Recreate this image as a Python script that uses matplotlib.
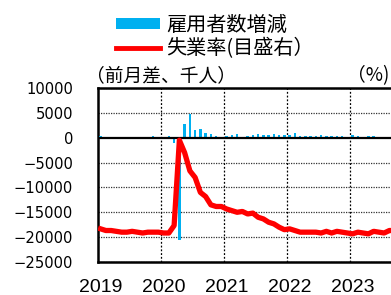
import matplotlib
matplotlib.use("Agg")
import matplotlib.pyplot as plt
from matplotlib.patches import Patch
from matplotlib.lines import Line2D
import numpy as np

# ---- data ----
years = [2019, 2020, 2021, 2022, 2023]
year_labels = ["2019", "2020", "2021", "2022", "2023"]

# monthly change in employees (thousand persons), Jan 2019 - Dec 2023
emp_change = [
    268, 1, 147, 216, 62, 178, 166, 219, 180, 136, 266, 184,          # 2019
    214, 251, -1120, -20500, 2750, 4700, 1600, 1750, 950, 700, 250, -250,  # 2020
    430, 570, 770, 230, 300, 630, 770, 570, 630, 770, 570, 570,      # 2021
    450, 850, 400, 350, 350, 300, 550, 300, 300, 280, 280, 230,      # 2022
    500, 310, 236, 253, 339, 209, 187, 187, 336, 150, 199, 216,      # 2023
]

# unemployment rate (%), Jan 2019 - Dec 2023
unemp = [
    4.0, 3.8, 3.8, 3.7, 3.6, 3.6, 3.7, 3.6, 3.5, 3.6, 3.6, 3.6,      # 2019
    3.5, 3.5, 4.4, 14.7, 13.2, 11.0, 10.2, 8.4, 7.9, 6.9, 6.7, 6.7,  # 2020
    6.4, 6.2, 6.0, 6.1, 5.8, 5.9, 5.4, 5.2, 4.8, 4.6, 4.2, 3.9,      # 2021
    4.0, 3.8, 3.6, 3.6, 3.6, 3.6, 3.5, 3.7, 3.5, 3.7, 3.6, 3.5,      # 2022
    3.4, 3.6, 3.5, 3.4, 3.7, 3.6, 3.5, 3.8, 3.8, 3.8, 3.7, 3.7,      # 2023
]

left_ticks = [10000, 5000, 0, -5000, -10000, -15000, -20000, -25000]

CJK = ["Noto Sans CJK JP", "DejaVu Sans"]
BLUE = "#00B0F0"
RED = "#FF0000"

W, H = 391, 295
fig = plt.figure(figsize=(W / 100, H / 100), dpi=100)
fig.patch.set_facecolor("white")

# axes extends beyond the right edge of the (cropped) picture
ax = fig.add_axes([98 / W, (H - 262) / H, 315 / W, 174 / H])
x = np.arange(len(emp_change)) + 0.5

ax.bar(x, emp_change, width=0.45, color=BLUE, zorder=3)
ax.set_xlim(0, 60)
ax.set_ylim(-25000, 10000)
ax.set_yticks(left_ticks)
ax.set_yticklabels([f"{v}".replace("-", "\u2212") for v in left_ticks],
                   family="DejaVu Sans", fontsize=10.6)
ax.tick_params(axis="y", length=0, pad=18)

# gridlines
for v in left_ticks:
    if v not in (0,):
        ax.axhline(v, color="#333333", lw=0.9, ls=(0, (1, 1)), zorder=1)
for i in range(1, 5):
    ax.axvline(i * 12, color="black", lw=0.9, ls=(0, (1.5, 1.5)), zorder=1)
ax.axhline(0, color="black", lw=1.6, zorder=4)

# year labels
ax.set_xticks([i * 12 + 0.5 for i in range(len(years))])
ax.set_xticklabels(year_labels, family="Liberation Sans", fontsize=14)
ax.tick_params(axis="x", length=0, pad=12)

for s in ["left", "bottom", "top"]:
    ax.spines[s].set_linewidth(1.8)
ax.spines["right"].set_visible(False)

ax2 = ax.twinx()
ax2.plot(x, unemp, color=RED, lw=3.8, solid_joinstyle="round", zorder=5)
ax2.set_ylim(0, 21)
ax2.set_yticks([])
for s in ax2.spines.values():
    s.set_visible(False)

# unit labels
fig.text(86 / W, 1 - 76 / H, "（前月差、千人）", family=CJK, fontsize=13.5,
         ha="left", va="center")
fig.text(389 / W, 1 - 76 / H, "（%)", family=CJK, fontsize=13.5,
         ha="right", va="center")

# legend
handles = [Patch(facecolor=BLUE, edgecolor="none"),
           Line2D([], [], color=RED, lw=3.5)]
labels = ["雇用者数増減", "失業率(目盛右）"]
fig.legend(handles, labels, loc="upper left",
           bbox_to_anchor=(116 / W, 1 - 15 / H),
           prop={"family": CJK, "size": 14.5}, frameon=False,
           borderpad=0, borderaxespad=0, handlelength=2.2,
           handleheight=0.45, handletextpad=0.3, labelspacing=0.1)

fig.savefig("out.png", dpi=100)
